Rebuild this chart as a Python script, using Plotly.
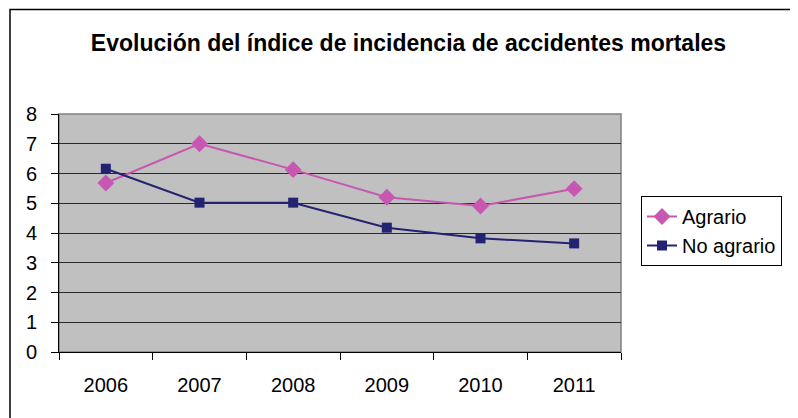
import plotly.graph_objects as go

years = ["2006", "2007", "2008", "2009", "2010", "2011"]
agrario = [5.68, 7.0, 6.13, 5.2, 4.91, 5.49]
no_agrario = [6.16, 5.02, 5.02, 4.18, 3.82, 3.65]
y_ticks = [0, 1, 2, 3, 4, 5, 6, 7, 8]

# page has an 8px body margin, so the figure is drawn 8px in from the window corner
OFF = 8
W, H = 798 - OFF, 418 - OFF
L, R, T, B = 59 - OFF, 621 - OFF, 114 - OFF, 352 - OFF  # plot area px (figure coords)


def px_x(p):
    return (p - OFF - L) / (R - L)


def px_y(p):
    return (B - (p - OFF)) / (B - T)


narrow = "Liberation Sans Narrow, Arial Narrow, Liberation Sans, sans-serif"
bold = "Liberation Sans, Arial, sans-serif"

fig = go.Figure()
fig.add_trace(go.Scatter(x=years, y=agrario, name="Agrario", mode="lines+markers",
                         line=dict(color="#C757B0", width=2),
                         marker=dict(symbol="diamond", size=13, color="#C757B0")))
fig.add_trace(go.Scatter(x=years, y=no_agrario, name="No agrario", mode="lines+markers",
                         line=dict(color="#232372", width=2),
                         marker=dict(symbol="square", size=10, color="#232372")))

fig.update_layout(
    width=W, height=H,
    margin=dict(l=L, r=W - R, t=T, b=H - B, pad=0),
    paper_bgcolor="white", plot_bgcolor="#C0C0C0",
    font=dict(family=narrow, size=20, color="black"),
    title=dict(text="<b>Evolución del índice de incidencia de accidentes mortales</b>",
               x=(408.5 - OFF) / W, xanchor="center", y=1 - (43 - OFF) / H, yanchor="middle",
               font=dict(size=23, family=bold, color="black")),
    showlegend=True,
    legend=dict(x=px_x(641), y=px_y(196), xanchor="left", yanchor="top",
                bgcolor="white", bordercolor="black", borderwidth=1,
                font=dict(size=20, family=narrow), tracegroupgap=0),
    xaxis=dict(type="category", tickson="boundaries", ticks="outside", ticklen=7,
               tickcolor="black", showline=True, linecolor="black", linewidth=1,
               showgrid=False, zeroline=False, range=[-0.5, 5.5],
               tickfont=dict(size=20, family=narrow), ticklabelstandoff=15),
    yaxis=dict(range=[0, 8], tickvals=y_ticks, ticks="outside", ticklen=7,
               tickcolor="black", showline=True, linecolor="black", linewidth=1,
               showgrid=True, gridcolor="#2a2a2a", gridwidth=1, zeroline=False,
               tickfont=dict(size=20, family=narrow), ticklabelstandoff=10),
    shapes=[
        dict(type="rect", xref="paper", yref="paper", x0=0, x1=1, y0=0, y1=1,
             line=dict(color="#808080", width=1.5), layer="below"),
        dict(type="rect", xref="paper", yref="paper",
             x0=px_x(10), x1=px_x(812), y0=px_y(430), y1=px_y(9.5),
             line=dict(color="black", width=1.5)),
    ],
)

fig.write_html("out.html")
